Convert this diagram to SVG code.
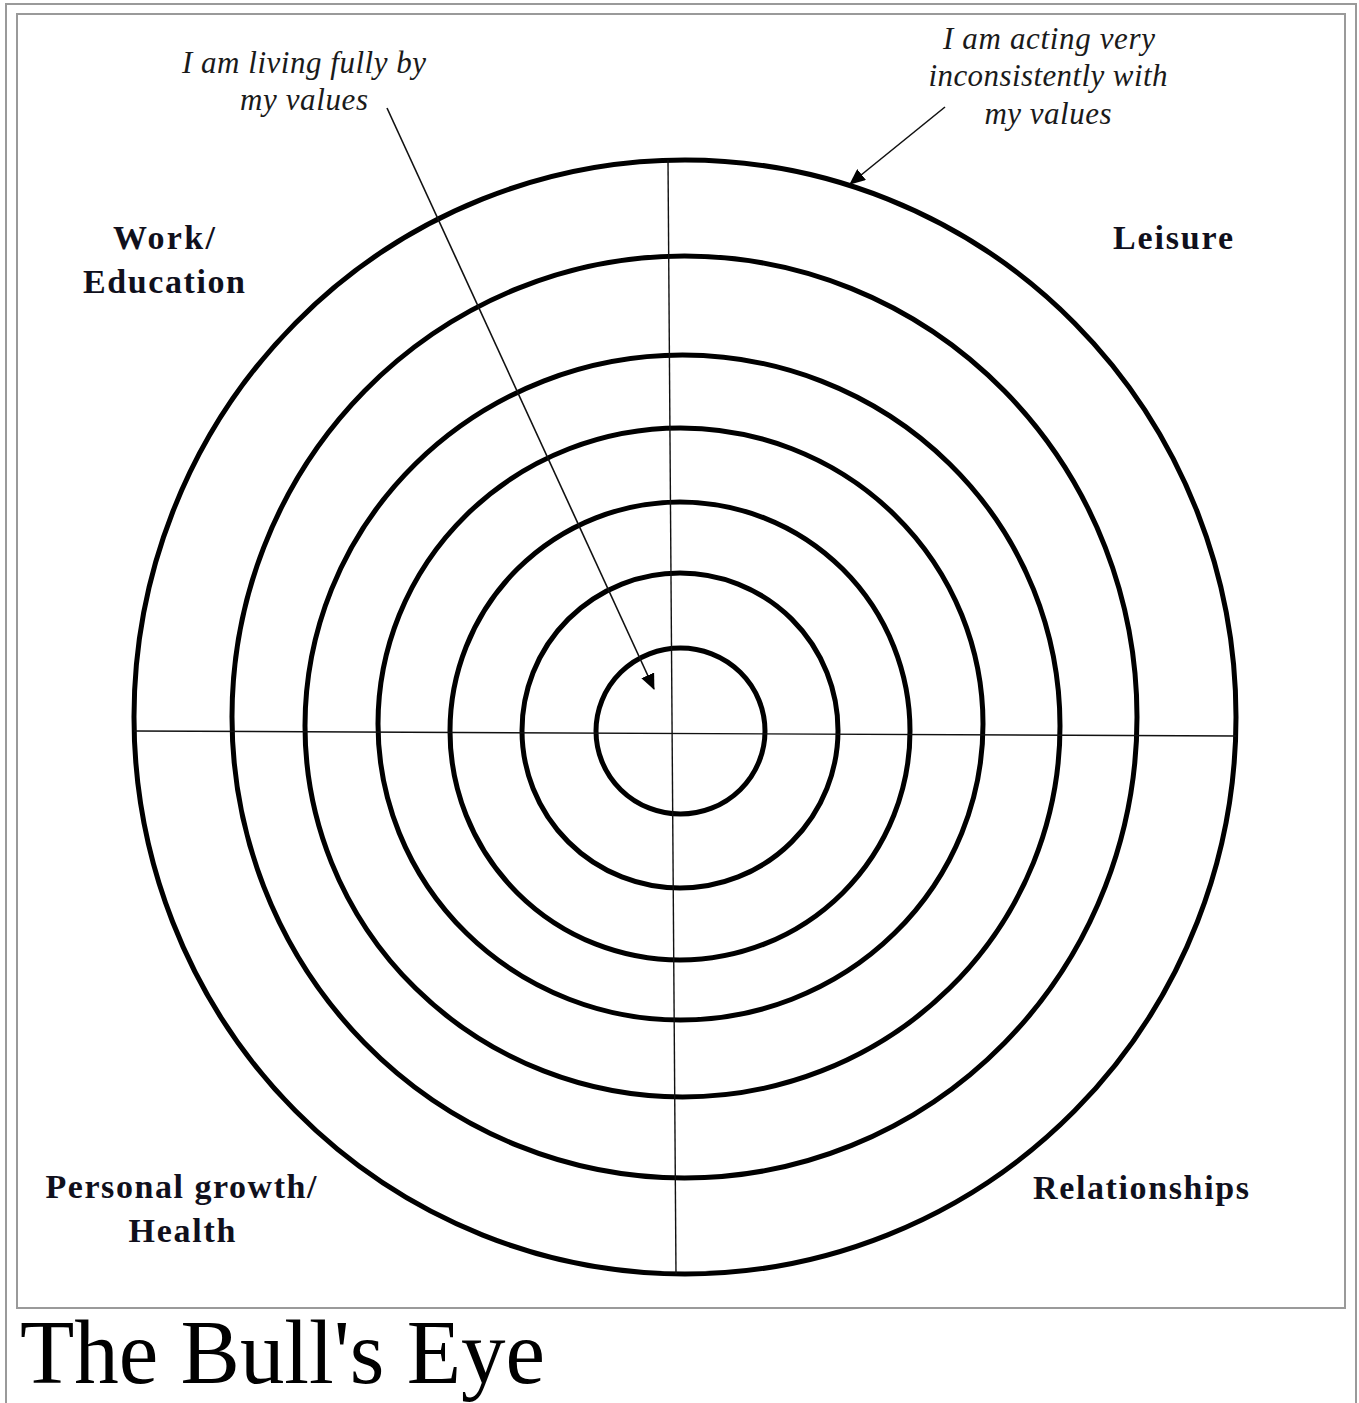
<svg xmlns="http://www.w3.org/2000/svg" width="1359" height="1403" viewBox="0 0 1359 1403">
<style>
.frame{fill:none;stroke:#9a9a9a;stroke-width:2}
.ring{fill:none;stroke:#000;stroke-width:5}
.axis{stroke:#111;stroke-width:1.4;fill:none}
.note{font-family:"Liberation Serif",serif;font-style:italic;font-size:31px;fill:#1a1a1a;text-anchor:middle}
.label{font-family:"Liberation Serif",serif;font-weight:bold;font-size:34px;fill:#10101c;text-anchor:middle}
.title{font-family:"Liberation Serif",serif;font-size:90px;fill:#000}
.conn{stroke:#111;stroke-width:1.6;fill:none}
</style>
<defs>
<marker id="ahL" viewBox="0 0 16 14" refX="15" refY="7" markerWidth="16" markerHeight="14" markerUnits="userSpaceOnUse" orient="auto">
<path d="M0,0 L16,7 L0,14 Z" fill="#000"/>
</marker>
</defs>
<rect width="1359" height="1403" fill="#fff"/>
<path class="frame" d="M6,1403 V4 H1356 V1403"/>
<rect class="frame" x="17" y="14" width="1328" height="1294"/>

<g id="target">
<ellipse class="ring" cx="685" cy="717" rx="551" ry="557"/>
<ellipse class="ring" cx="684.5" cy="717" rx="452.5" ry="461"/>
<ellipse class="ring" cx="682.5" cy="726" rx="377.5" ry="371"/>
<ellipse class="ring" cx="680.5" cy="724" rx="302.5" ry="296"/>
<ellipse class="ring" cx="680" cy="731" rx="230" ry="229"/>
<ellipse class="ring" cx="680" cy="730.5" rx="158" ry="157.5"/>
<ellipse class="ring" cx="680.5" cy="731" rx="84.5" ry="83"/>
<line class="axis" x1="668" y1="160" x2="676" y2="1274"/>
<line class="axis" x1="134" y1="731" x2="1236" y2="736"/>
</g>

<g id="connectors">
<line class="conn" x1="387" y1="108" x2="654" y2="689" marker-end="url(#ahL)"/>
<line class="conn" x1="945" y1="107" x2="850" y2="184" marker-end="url(#ahL)"/>
</g>

<g id="note-living">
<text class="note" x="304" y="73" textLength="244">I am living fully by</text>
<text class="note" x="304" y="110" textLength="128">my values</text>
</g>
<g id="note-acting">
<text class="note" x="1049" y="49" textLength="212">I am acting very</text>
<text class="note" x="1048" y="86" textLength="239">inconsistently with</text>
<text class="note" x="1048" y="124" textLength="127">my values</text>
</g>

<g id="work">
<text class="label" x="164" y="249" textLength="102">Work/</text>
<text class="label" x="164" y="293" textLength="162">Education</text>
</g>
<g id="leisure">
<text class="label" x="1173" y="249" textLength="120">Leisure</text>
</g>
<g id="personal">
<text class="label" x="181" y="1198" textLength="271">Personal growth/</text>
<text class="label" x="182" y="1242" textLength="107">Health</text>
</g>
<g id="relationships">
<text class="label" x="1141" y="1199" textLength="216">Relationships</text>
</g>

<text class="title" x="20" y="1383" textLength="525" lengthAdjust="spacingAndGlyphs">The Bull's Eye</text>
</svg>
